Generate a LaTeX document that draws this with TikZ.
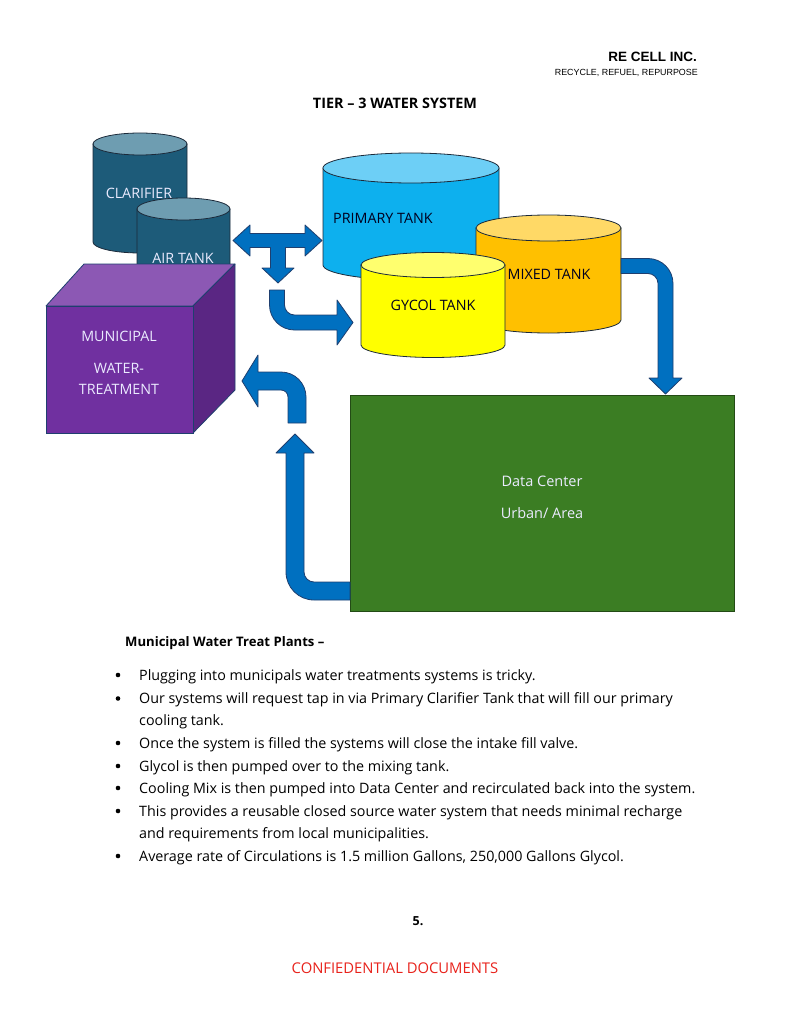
\documentclass[tikz,border=0pt]{standalone}
\usepackage{fontspec}
\setmainfont{Open Sans}
\newfontfamily\arialf{Liberation Sans}
\definecolor{clarbody}{HTML}{1D5B79}
\definecolor{clartop}{HTML}{6E9DB1}
\definecolor{primbody}{HTML}{0DB0EE}
\definecolor{primtop}{HTML}{6DCFF6}
\definecolor{mixbody}{HTML}{FFC000}
\definecolor{mixtop}{HTML}{FFD966}
\definecolor{glybody}{HTML}{FFFF00}
\definecolor{glytop}{HTML}{FFFF6E}
\definecolor{cubefront}{HTML}{7030A0}
\definecolor{cubetop}{HTML}{8C58B4}
\definecolor{cuberight}{HTML}{5A2683}
\definecolor{dcgreen}{HTML}{3B7D23}
\definecolor{arrblue}{HTML}{0070C0}
\definecolor{arredge}{HTML}{1F3F6F}
\definecolor{edgedark}{HTML}{1C2A3A}
\definecolor{confred}{HTML}{E8221B}
\newcommand\mycyl[7]{%
  \filldraw[fill=#6, draw=edgedark, line width=0.8pt] (#1-#2,#3) -- (#1-#2,#4)
    arc[start angle=180,end angle=360,x radius=#2pt,y radius=#5pt] -- (#1+#2,#3) -- cycle;
  \filldraw[fill=#7, draw=edgedark, line width=0.8pt] (#1,#3) ellipse[x radius=#2pt, y radius=#5pt];
}
\tikzset{
  lightlbl/.style={text=white!92!blue, font=\fontsize{14.3}{16}\selectfont, inner sep=0pt},
  darklbl/.style={text=black!88!blue, font=\fontsize{14.3}{16}\selectfont, inner sep=0pt},
  blockarrow/.style={fill=arrblue, draw=arredge, line width=0.8pt, line join=round},
  bodytxt/.style={anchor=base west, inner sep=0pt, font=\fontsize{14.3}{16}\selectfont},
  bulletdot/.style={circle, fill=black, inner sep=0pt, minimum size=4.6pt}
}
\begin{document}
\begin{tikzpicture}[x=1pt,y=-1pt]
\useasboundingbox (0,0) rectangle (791,1024);
\fill[white] (0,0) rectangle (791,1024);

% header
\node[anchor=base east, inner sep=0pt, font=\arialf\bfseries\fontsize{13.5}{15}\selectfont] (company) at (697,62) {RE CELL INC.};
\node[anchor=base east, inner sep=0pt, font=\arialf\fontsize{8.9}{10}\selectfont] (slogan) at (698,76) {RECYCLE, REFUEL, REPURPOSE};
\node[inner sep=0pt, font=\bfseries\fontsize{14.4}{16}\selectfont] (title) at (395,103) {TIER -- 3 WATER SYSTEM};

% clarifier and air tank
\mycyl{140}{47}{144}{242}{11}{clarbody}{clartop}
\node[lightlbl] (clarlbl) at (139,193) {CLARIFIER};
\mycyl{183.5}{46.5}{209}{300}{11}{clarbody}{clartop}
\node[lightlbl] (airlbl) at (183,258) {AIR TANK};

% cube
\filldraw[fill=cubetop, draw=arredge, line width=0.8pt, line join=round] (46,306) -- (84,264) -- (235,264) -- (193,306) -- cycle;
\filldraw[fill=cuberight, draw=arredge, line width=0.8pt, line join=round] (193,306) -- (235,264) -- (235,390) -- (193,433) -- cycle;
\filldraw[fill=cubefront, draw=arredge, line width=0.8pt] (46,306) rectangle (193,433);
\node[lightlbl] (munlbl1) at (119,336) {MUNICIPAL};
\node[lightlbl] (munlbl2) at (119,368) {WATER-};
\node[lightlbl] (munlbl3) at (119,389) {TREATMENT};

% tanks
\mycyl{411}{88}{168}{265}{15}{primbody}{primtop}
\node[darklbl, anchor=west] (primlbl) at (333,218) {PRIMARY TANK};
\mycyl{548.5}{72.5}{228}{320}{13}{mixbody}{mixtop}
\node[darklbl] (mixlbl) at (549,274) {MIXED TANK};
\mycyl{433}{72}{265}{345}{12.5}{glybody}{glytop}
\node[darklbl] (glylbl) at (433,305) {GYCOL TANK};

% data center
\filldraw[fill=dcgreen, draw=dcgreen!60!black, line width=0.8pt] (350,395) rectangle (734,611);
\node[lightlbl, font=\fontsize{14.5}{16}\selectfont] (dc1) at (542,481) {Data Center};
\node[lightlbl, font=\fontsize{14.5}{16}\selectfont] (dc2) at (542,513) {Urban/ Area};

% T arrow
\filldraw[blockarrow] (233,240.5) -- (250,225) -- (250,233.5) -- (305,233.5) -- (305,225) -- (322,240.5)
  -- (305,256) -- (305,247.5) -- (285.5,247.5) -- (285.5,268) -- (294,268) -- (278,283)
  -- (262,268) -- (270.5,268) -- (270.5,247.5) -- (250,247.5) -- (250,256) -- cycle;

% curved arrow to gycol tank
\filldraw[blockarrow] (269.5,290) -- (269.5,305) arc[start angle=180,end angle=270,radius=25pt]
  -- (337,330) -- (337,345) -- (353,322.5) -- (337,300) -- (337,315) -- (294.5,315)
  arc[start angle=270,end angle=180,radius=10pt] -- (284.5,290) -- cycle;

% mixed tank to data center
\filldraw[blockarrow] (621,258.5) -- (648,258.5) arc[start angle=90,end angle=0,radius=25pt]
  -- (673,378) -- (682,378) -- (665.5,394) -- (649,378) -- (658,378) -- (658,283.5)
  arc[start angle=0,end angle=90,radius=10pt] -- (621,273.5) -- cycle;

% data center back up
\filldraw[blockarrow] (350,600) -- (314,600) arc[start angle=270,end angle=180,radius=28pt]
  -- (286,453) -- (276,453) -- (295,434) -- (314,453) -- (304,453) -- (304,572)
  arc[start angle=180,end angle=270,radius=10pt] -- (350,582) -- cycle;

% U-turn into cube
\filldraw[blockarrow] (306,423) -- (306,397) arc[start angle=0,end angle=90,radius=25pt]
  -- (258,372) -- (258,355) -- (242,381) -- (258,407) -- (258,390) -- (281,390)
  arc[start angle=90,end angle=0,radius=7pt] -- (288,423) -- cycle;

% text section
\node[bodytxt, font=\bfseries\fontsize{13.1}{15}\selectfont] (head) at (125,646) {Municipal Water Treat Plants --};
\node[bodytxt] (l1) at (139,680) {Plugging into municipals water treatments systems is tricky.};
\node[bodytxt] (l2) at (139,703.5) {Our systems will request tap in via Primary Clarifier Tank that will fill our primary};
\node[bodytxt] (l3) at (139,725) {cooling tank.};
\node[bodytxt] (l4) at (139,748) {Once the system is filled the systems will close the intake fill valve.};
\node[bodytxt] (l5) at (139,771) {Glycol is then pumped over to the mixing tank.};
\node[bodytxt] (l6) at (139,793) {Cooling Mix is then pumped into Data Center and recirculated back into the system.};
\node[bodytxt] (l7) at (139,816) {This provides a reusable closed source water system that needs minimal recharge};
\node[bodytxt] (l8) at (139,838) {and requirements from local municipalities.};
\node[bodytxt] (l9) at (139,861) {Average rate of Circulations is 1.5 million Gallons, 250,000 Gallons Glycol.};
\foreach \yy/\nm in {675/b1,698.5/b2,743/b3,766/b4,788/b5,811/b6,856/b7}
  \node[bulletdot] (\nm) at (118,\yy) {};

% footer
\node[inner sep=0pt, font=\bfseries\fontsize{12.5}{14}\selectfont] (pagenum) at (418,921) {5.};
\node[inner sep=0pt, text=confred, font=\fontsize{14.8}{16}\selectfont] (conf) at (395,968) {CONFIEDENTIAL DOCUMENTS};
\end{tikzpicture}
\end{document}
